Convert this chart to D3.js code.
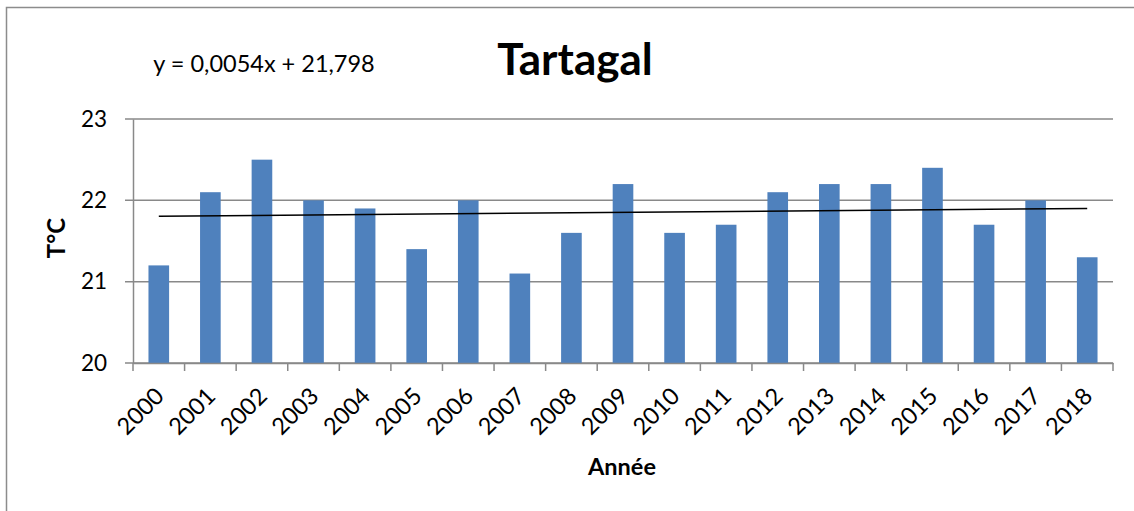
<!DOCTYPE html>
<html>
<head>
<meta charset="utf-8">
<script src="https://cdn.jsdelivr.net/npm/d3@7"></script>
<style>
  body { margin: 0; background: #fff; }
  svg { display: block; font-family: Lato, "Open Sans", sans-serif; }
</style>
</head>
<body>
<div id="chart"></div>
<script>
// données
var years = ["2000","2001","2002","2003","2004","2005","2006","2007","2008","2009",
             "2010","2011","2012","2013","2014","2015","2016","2017","2018"];
var temps = [21.2, 22.1, 22.5, 22.0, 21.9, 21.4, 22.0, 21.1, 21.6, 22.2,
             21.6, 21.7, 22.1, 22.2, 22.2, 22.4, 21.7, 22.0, 21.3];
var yTicks = [20, 21, 22, 23];
var trendSlope = 0.0054, trendIntercept = 21.798;

var width = 1134, height = 511;
var margin = { top: 119, right: 21, bottom: 148, left: 133 };

var svg = d3.select("#chart").append("svg")
    .attr("width", width)
    .attr("height", height);

// cadre du graphique
svg.append("rect")
    .attr("x", 6.5).attr("y", 7.5)
    .attr("width", width + 10).attr("height", height + 10)
    .attr("fill", "none")
    .attr("stroke", "#8c8c8c")
    .attr("stroke-width", 1.5);

var x = d3.scaleBand()
    .domain(years)
    .range([margin.left, width - margin.right])
    .paddingInner(0.6)
    .paddingOuter(0.3);

var xb = d3.scaleBand()
    .domain(years)
    .range([margin.left, width - margin.right]);

var y = d3.scaleLinear()
    .domain([20, 23])
    .range([height - margin.bottom, margin.top]);

// grille
svg.append("g")
    .selectAll("line")
    .data(yTicks)
    .enter().append("line")
    .attr("x1", margin.left - 8)
    .attr("x2", width - margin.right)
    .attr("y1", d => y(d))
    .attr("y2", d => y(d))
    .attr("stroke", "#898989")
    .attr("stroke-width", 1.5);

// axe Y
var yAxis = svg.append("g")
    .attr("transform", `translate(${margin.left}, 0)`)
    .call(d3.axisLeft(y).tickValues(yTicks).tickFormat(d3.format("d")).tickSize(0).tickPadding(26));
yAxis.select(".domain").attr("stroke", "#898989").attr("stroke-width", 1.5);
yAxis.selectAll("text")
    .attr("font-size", 22.5)
    .attr("fill", "#000")
    .attr("font-family", "Lato, sans-serif");

// barres
svg.append("g")
    .selectAll("rect")
    .data(temps)
    .enter().append("rect")
    .attr("x", (d, i) => x(years[i]))
    .attr("y", d => y(d))
    .attr("width", x.bandwidth())
    .attr("height", d => y(20) - y(d))
    .attr("fill", "#4f81bd");

// axe X
var xAxis = svg.append("g")
    .attr("transform", `translate(0, ${y(20)})`)
    .call(d3.axisBottom(xb).tickSize(0).tickFormat(""));
xAxis.select(".domain").attr("stroke", "#898989").attr("stroke-width", 1.5);
xAxis.selectAll(".tick").remove();

var bounds = years.map(d => xb(d)).concat([width - margin.right]);
svg.append("g")
    .selectAll("line")
    .data(bounds)
    .enter().append("line")
    .attr("x1", d => d).attr("x2", d => d)
    .attr("y1", y(20)).attr("y2", y(20) + 8)
    .attr("stroke", "#898989")
    .attr("stroke-width", 1.5);

svg.append("g")
    .selectAll("text")
    .data(years)
    .enter().append("text")
    .attr("transform", d => `translate(${xb(d) + xb.bandwidth() / 2 - 5}, ${y(20) + 23}) rotate(-45)`)
    .attr("text-anchor", "end")
    .attr("dy", "0.7em")
    .attr("font-size", 23.5)
    .text(d => d);

// courbe de tendance linéaire
svg.append("path")
    .datum([years[0], years[years.length - 1]])
    .attr("d", d3.line()
        .x(d => xb(d) + xb.bandwidth() / 2)
        .y(d => y(trendSlope * (years.indexOf(d) + 1) + trendIntercept)))
    .attr("fill", "none")
    .attr("stroke", "#000")
    .attr("stroke-width", 1.5);

// titres
svg.append("text")
    .attr("x", 575).attr("y", 75)
    .attr("text-anchor", "middle")
    .attr("font-size", 44)
    .attr("font-weight", "bold")
    .text("Tartagal");

svg.append("text")
    .attr("x", 264).attr("y", 72)
    .attr("text-anchor", "middle")
    .attr("font-size", 23.5)
    .text("y = 0,0054x + 21,798");

svg.append("text")
    .attr("transform", "translate(65, 238) rotate(-90)")
    .attr("text-anchor", "middle")
    .attr("font-size", 24)
    .attr("font-weight", "bold")
    .text("T°C");

svg.append("text")
    .attr("x", 622).attr("y", 475)
    .attr("text-anchor", "middle")
    .attr("font-size", 23.5)
    .attr("font-weight", "bold")
    .text("Année");
</script>
</body>
</html>
